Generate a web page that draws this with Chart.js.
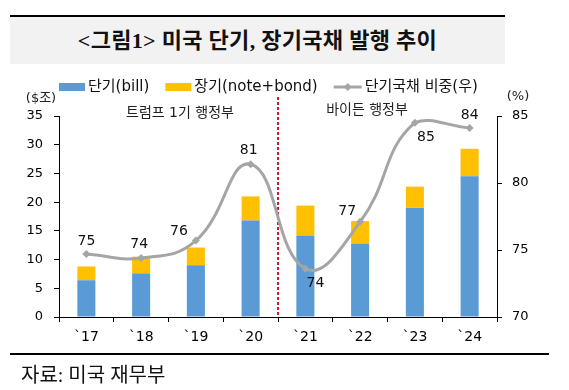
<!DOCTYPE html>
<html>
<head>
<meta charset="utf-8">
<script src="https://cdn.jsdelivr.net/npm/chart.js@4/dist/chart.umd.min.js"></script>
<style>
  body { margin: 0; background: #fff; }
  #wrap { position: relative; width: 569px; height: 390px; overflow: hidden; }
  #chart { position: absolute; left: 0; top: 0; }
  .title {
    position: absolute; left: 10px; top: 15px; width: 495px; height: 47px;
    border-top: 2px solid #000; background: #f2f2f2;
    font: 600 22px "Liberation Serif", "Noto Sans CJK KR", serif;
    color: #111; text-align: center; line-height: 47px; letter-spacing: 0.3px;
  }
  .rule { position: absolute; left: 10px; top: 353px; width: 539px; height: 2px; background: #000; }
  .source {
    position: absolute; left: 21px; top: 359px;
    font: 20px "Liberation Serif", "Noto Sans CJK KR", serif; color: #111;
  }
</style>
</head>
<body>
<div id="wrap">
  <div class="title">&lt;그림1&gt; 미국 단기, 장기국채 발행 추이</div>
  <canvas id="chart" width="569" height="390"></canvas>
  <div class="rule"></div>
  <div class="source">자료: 미국 재무부</div>
</div>
<script>
  // values
  const years = ['`17', '`18', '`19', '`20', '`21', '`22', '`23', '`24'];
  const bills = [6.4, 7.6, 9.0, 16.8, 14.2, 12.8, 19.0, 24.5];      // 단기 ($조)
  const notes = [2.4, 2.9, 3.1, 4.2, 5.2, 3.9, 3.7, 4.8];           // 장기 ($조)
  const billShare = [74.7, 74.4, 75.7, 81.4, 73.6, 77.1, 84.5, 84.1]; // 단기국채 비중 (%)

  // label offsets from each point (px)
  const labelDx = [0, -2, -17, -2, 10, -13, 11, 0];
  const labelDy = [-13, -14, -9, -14, 15, -11, 15, -13];

  const dividerAt = 3.5; // between `20 and `21
  const FONT = '"DejaVu Sans", "Noto Sans CJK KR", sans-serif';

  const extras = {
    id: 'extras',
    beforeDatasetsDraw(chart) {
      const { ctx, chartArea, scales } = chart;
      const x = Math.round(scales.x.getPixelForValue(dividerAt));
      ctx.save();
      ctx.strokeStyle = '#c8202a';
      ctx.lineWidth = 2;
      ctx.setLineDash([3, 2]);
      ctx.beginPath();
      ctx.moveTo(x, 97);
      ctx.lineTo(x, chartArea.bottom);
      ctx.stroke();
      ctx.restore();
    },
    afterDatasetsDraw(chart) {
      const { ctx } = chart;
      ctx.save();
      ctx.fillStyle = '#111';
      ctx.textAlign = 'center';
      ctx.textBaseline = 'middle';
      ctx.font = '14px ' + FONT;
      const meta = chart.getDatasetMeta(2);
      meta.data.forEach((pt, i) => {
        ctx.fillText(String(Math.round(billShare[i])), pt.x + labelDx[i], pt.y + labelDy[i]);
      });
      // period notes
      ctx.fillStyle = '#222';
      ctx.fillText('트럼프 1기 행정부', 180, 113);
      ctx.fillText('바이든 행정부', 367, 110);
      // unit labels
      ctx.font = '13px ' + FONT;
      ctx.fillText('($조)', 41, 99);
      ctx.fillText('(%)', 518, 97);
      ctx.restore();
    },
    afterDraw(chart) {
      // legend
      const { ctx } = chart;
      const ds = chart.data.datasets;
      const y = 87;
      let x = 59;
      ctx.save();
      ctx.font = '15px ' + FONT;
      ctx.textBaseline = 'middle';
      ctx.textAlign = 'left';
      [0, 1, 2].forEach(i => {
        const d = ds[i];
        if (d.type === 'line') {
          ctx.strokeStyle = d.borderColor;
          ctx.lineWidth = 3;
          ctx.beginPath();
          ctx.moveTo(x, y);
          ctx.lineTo(x + 28, y);
          ctx.stroke();
          ctx.fillStyle = d.borderColor;
          ctx.beginPath();
          ctx.moveTo(x + 14, y - 4);
          ctx.lineTo(x + 18, y);
          ctx.lineTo(x + 14, y + 4);
          ctx.lineTo(x + 10, y);
          ctx.closePath();
          ctx.fill();
          x += 31;
        } else {
          ctx.fillStyle = d.backgroundColor;
          ctx.fillRect(x, y - 4, 26, 8);
          x += 29;
        }
        ctx.fillStyle = '#111';
        ctx.fillText(d.label, x, y);
        x += ctx.measureText(d.label).width + 16;
      });
      ctx.restore();
    }
  };

  const tickFont = { family: FONT, size: 13 };

  new Chart(document.getElementById('chart'), {
    data: {
      labels: years,
      datasets: [
        {
          type: 'bar',
          label: '단기(bill)',
          data: bills,
          backgroundColor: '#5b9bd5',
          stack: 's',
          yAxisID: 'y',
          order: 1
        },
        {
          type: 'bar',
          label: '장기(note+bond)',
          data: notes,
          backgroundColor: '#ffc000',
          stack: 's',
          yAxisID: 'y',
          order: 1
        },
        {
          type: 'line',
          label: '단기국채 비중(우)',
          data: billShare,
          yAxisID: 'y1',
          borderColor: '#a5a5a5',
          backgroundColor: '#a5a5a5',
          borderWidth: 3,
          tension: 0.45,
          pointStyle: 'rectRot',
          pointRadius: 4,
          pointBorderWidth: 0,
          clip: 6,
          order: 0
        }
      ]
    },
    options: {
      responsive: false,
      animation: false,
      layout: { padding: { top: 116, left: 0, right: 0, bottom: 0 } },
      datasets: { bar: { barPercentage: 0.33, categoryPercentage: 1 } },
      plugins: { legend: { display: false }, tooltip: { enabled: false } },
      scales: {
        x: {
          stacked: true,
          grid: { offset: true, drawOnChartArea: false, drawTicks: true, tickLength: 5, color: '#000' },
          border: { color: '#000', width: 1 },
          ticks: { font: { family: FONT, size: 14 }, color: '#000', padding: 7 },
          afterFit(s) { s.height = 73; }
        },
        y: {
          position: 'left',
          stacked: true,
          min: 0,
          max: 35,
          ticks: { stepSize: 5, font: tickFont, color: '#000', padding: 11 },
          grid: { drawOnChartArea: false, drawTicks: true, tickLength: 5, color: '#000' },
          border: { color: '#000', width: 1 },
          afterFit(s) { s.width = 59; }
        },
        y1: {
          position: 'right',
          min: 70,
          max: 85,
          ticks: { stepSize: 5, font: tickFont, color: '#000', padding: 10 },
          grid: { drawOnChartArea: false, drawTicks: true, tickLength: 5, color: '#000' },
          border: { color: '#000', width: 1 },
          afterFit(s) { s.width = 72; }
        }
      }
    },
    plugins: [extras]
  });
</script>
</body>
</html>
